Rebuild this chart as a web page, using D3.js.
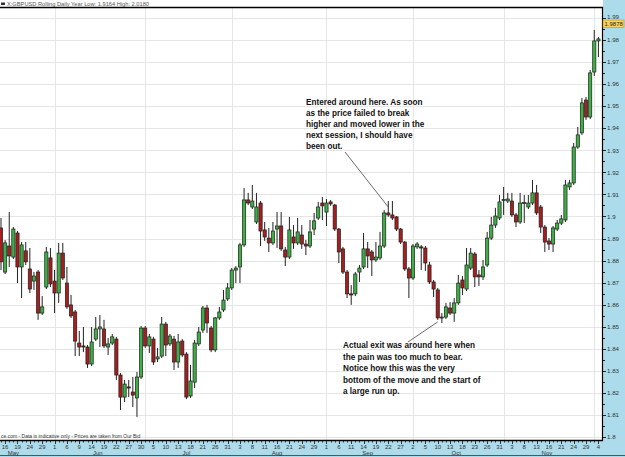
<!DOCTYPE html>
<html>
<head>
<meta charset="utf-8">
<script src="https://cdn.jsdelivr.net/npm/d3@7"></script>
<style>
  body { margin: 0; background: #fff; }
  svg { display: block; font-family: "Liberation Sans", Arial, sans-serif; }
</style>
</head>
<body>
<div id="chart"></div>
<script>
// GBP/USD daily candles, one per weekday from 15 May 2006
var startDate = "2006-05-15";

var opens = [1.8948,1.8748,1.8866,1.8816,1.8925,1.8771,1.8844,1.8762,1.8707,1.8748,
  1.8562,1.8680,1.8812,1.8707,1.8653,1.8834,1.8698,1.8599,1.8567,1.8426,
  1.8413,1.8408,1.8331,1.8444,1.8490,1.8490,1.8408,1.8426,1.8444,1.8281,
  1.8181,1.8227,1.8204,1.8177,1.8272,1.8494,1.8413,1.8444,1.8354,1.8367,
  1.8512,1.8422,1.8444,1.8340,1.8435,1.8376,1.8186,1.8249,1.8422,1.8485,
  1.8585,1.8494,1.8395,1.8540,1.8576,1.8626,1.8676,1.8757,1.8771,1.8871,
  1.9075,1.9043,1.8975,1.9061,1.8939,1.8902,1.8880,1.8943,1.8957,1.8848,
  1.8816,1.8907,1.8880,1.8916,1.8875,1.8866,1.8943,1.8993,1.9061,1.9020,
  1.9066,1.9052,1.8943,1.8853,1.8748,1.8649,1.8649,1.8748,1.8771,1.8853,
  1.8839,1.8803,1.8812,1.8866,1.9016,1.9007,1.8998,1.8943,1.8884,1.8762,
  1.8721,1.8862,1.8862,1.8857,1.8780,1.8703,1.8667,1.8540,1.8544,1.8585,
  1.8562,1.8608,1.8712,1.8671,1.8766,1.8830,1.8735,1.8726,1.8780,1.8902,
  1.8961,1.8993,1.9075,1.9070,1.9070,1.9007,1.8975,1.9061,1.9043,1.9061,
  1.9107,1.9043,1.8952,1.8889,1.8875,1.8943,1.8970,1.8984,1.9134,1.9152,
  1.9315,1.9379,1.9528,1.9451,1.9655,1.9796];

var highs = [1.8993,1.8893,1.9020,1.8952,1.8934,1.8884,1.8884,1.8857,1.8748,1.8757,
  1.8639,1.8862,1.8857,1.8757,1.8880,1.8880,1.8771,1.8644,1.8576,1.8481,
  1.8499,1.8417,1.8499,1.8544,1.8553,1.8531,1.8449,1.8467,1.8454,1.8290,
  1.8259,1.8259,1.8272,1.8295,1.8503,1.8503,1.8467,1.8454,1.8404,1.8544,
  1.8522,1.8467,1.8458,1.8467,1.8444,1.8385,1.8327,1.8440,1.8499,1.8594,
  1.8599,1.8503,1.8544,1.8590,1.8667,1.8698,1.8766,1.8775,1.8880,1.9129,
  1.9107,1.9143,1.9107,1.9070,1.8975,1.8948,1.8975,1.9020,1.9020,1.8862,
  1.8998,1.8961,1.8993,1.8961,1.8893,1.8984,1.9016,1.9066,1.9088,1.9079,
  1.9075,1.9057,1.8948,1.8862,1.8757,1.8689,1.8748,1.8780,1.8925,1.8884,
  1.8848,1.8884,1.8930,1.9029,1.9070,1.9070,1.9002,1.8948,1.8889,1.8771,
  1.8875,1.8884,1.8871,1.8866,1.8794,1.8712,1.8676,1.8562,1.8608,1.8612,
  1.8630,1.8735,1.8730,1.8857,1.8857,1.8839,1.8757,1.8803,1.8930,1.8998,
  1.9039,1.9097,1.9134,1.9107,1.9107,1.9016,1.9107,1.9097,1.9097,1.9166,
  1.9143,1.9052,1.8961,1.8902,1.8957,1.8984,1.9007,1.9166,1.9166,1.9333,
  1.9406,1.9537,1.9542,1.9664,1.9846,1.9814];

var lows = [1.8757,1.8739,1.8771,1.8807,1.8698,1.8630,1.8780,1.8653,1.8667,1.8531,
  1.8553,1.8671,1.8680,1.8562,1.8608,1.8712,1.8581,1.8540,1.8367,1.8367,
  1.8385,1.8313,1.8322,1.8435,1.8408,1.8404,1.8372,1.8417,1.8259,1.8122,
  1.8159,1.8181,1.8136,1.8091,1.8263,1.8404,1.8381,1.8327,1.8340,1.8358,
  1.8367,1.8413,1.8304,1.8313,1.8363,1.8172,1.8177,1.8222,1.8413,1.8472,
  1.8472,1.8385,1.8385,1.8531,1.8567,1.8617,1.8667,1.8698,1.8698,1.8862,
  1.9052,1.9034,1.8966,1.8866,1.8889,1.8839,1.8871,1.8857,1.8844,1.8775,
  1.8807,1.8853,1.8871,1.8853,1.8825,1.8857,1.8916,1.8984,1.8984,1.8957,
  1.9048,1.8934,1.8789,1.8739,1.8630,1.8599,1.8639,1.8703,1.8762,1.8766,
  1.8730,1.8794,1.8803,1.8857,1.8998,1.8984,1.8934,1.8875,1.8753,1.8630,
  1.8712,1.8853,1.8757,1.8753,1.8694,1.8635,1.8531,1.8517,1.8535,1.8553,
  1.8522,1.8599,1.8644,1.8662,1.8757,1.8680,1.8685,1.8712,1.8771,1.8893,
  1.8948,1.8984,1.9007,1.9061,1.8998,1.8952,1.8966,1.8971,1.9034,1.9052,
  1.9007,1.8925,1.8839,1.8848,1.8839,1.8934,1.8961,1.8975,1.9120,1.9143,
  1.9306,1.9370,1.9438,1.9442,1.9637,1.9723];

var closes = [1.8794,1.8880,1.8821,1.8943,1.8771,1.8871,1.8794,1.8671,1.8730,1.8562,
  1.8590,1.8839,1.8694,1.8653,1.8834,1.8721,1.8590,1.8549,1.8435,1.8408,
  1.8408,1.8331,1.8431,1.8490,1.8499,1.8413,1.8422,1.8454,1.8281,1.8181,
  1.8240,1.8222,1.8190,1.8272,1.8494,1.8413,1.8454,1.8340,1.8363,1.8512,
  1.8417,1.8458,1.8340,1.8431,1.8372,1.8181,1.8254,1.8426,1.8476,1.8585,
  1.8517,1.8395,1.8540,1.8567,1.8621,1.8676,1.8757,1.8766,1.8871,1.9075,
  1.9061,1.9070,1.9043,1.8934,1.8907,1.8880,1.8934,1.8957,1.8853,1.8816,
  1.8939,1.8880,1.8930,1.8875,1.8866,1.8930,1.8980,1.9043,1.9048,1.9061,
  1.9057,1.8943,1.8839,1.8748,1.8649,1.8644,1.8739,1.8766,1.8853,1.8821,
  1.8803,1.8816,1.8866,1.9016,1.9007,1.8993,1.8943,1.8884,1.8762,1.8721,
  1.8866,1.8875,1.8857,1.8789,1.8703,1.8671,1.8540,1.8544,1.8590,1.8562,
  1.8608,1.8698,1.8676,1.8780,1.8834,1.8726,1.8726,1.8771,1.8902,1.8961,
  1.9002,1.9066,1.9077,1.9079,1.9007,1.8975,1.9061,1.9063,1.9061,1.9107,
  1.9016,1.8952,1.8884,1.8875,1.8948,1.8970,1.8989,1.9143,1.9152,1.9315,
  1.9370,1.9515,1.9451,1.9651,1.9796,1.9805];

var priceTicks = [1.80,1.81,1.82,1.83,1.84,1.85,1.86,1.87,1.88,1.89,
  1.90,1.91,1.92,1.93,1.94,1.95,1.96,1.97,1.98,1.99];
var monthNames = ["Jan","Feb","Mar","Apr","May","Jun","Jul","Aug","Sep","Oct","Nov","Dec"];
var lastPrice = 1.9878;

var titleText = "X:GBPUSD Rolling Daily    Year Low: 1.9164 High: 2.0180";
var footerText = "ce.com - Data is indicative only - Prices are taken from Our Bid";
var entryNote = ["Entered around here. As soon", "as the price failed to break",
  "higher and moved lower in the", "next session, I should have", "been out."];
var exitNote = ["Actual exit was around here when", "the pain was too much to bear.",
  "Notice how this was the very", "bottom of the move and the start of", "a large run up."];

// ---- layout
var W = 625, H = 457;
var plot = {left: 0, right: 602, top: 8, bottom: 440};

// build the weekday list
var days = d3.utcDays(new Date(startDate + "T00:00:00Z"), new Date("2007-01-01T00:00:00Z"))
  .filter(function(d) { return d.getUTCDay() !== 0 && d.getUTCDay() !== 6; })
  .slice(0, opens.length);

var data = days.map(function(d, i) {
  return {i: i, date: d, o: opens[i], h: highs[i], l: lows[i], c: closes[i]};
});

var x = d3.scaleLinear().domain([0, data.length - 1]).range([1, 598.4]);
var y = d3.scaleLinear().domain([1.80, 1.99]).range([437, 18]);

var svg = d3.select("#chart").append("svg")
  .attr("width", W).attr("height", H);

svg.append("rect").attr("width", W).attr("height", H).attr("fill", "#fff");

// blue side/bottom panels
svg.append("rect").attr("x", 603).attr("y", 0).attr("width", W - 603).attr("height", H)
  .attr("fill", "#acdcec");
svg.append("rect").attr("x", 0).attr("y", 441).attr("width", W).attr("height", H - 441)
  .attr("fill", "#acdcec");

svg.append("defs").append("clipPath").attr("id", "clip")
  .append("rect").attr("x", plot.left).attr("y", plot.top)
  .attr("width", plot.right - plot.left).attr("height", plot.bottom - plot.top);

var g = svg.append("g").attr("clip-path", "url(#clip)");

// horizontal grid
g.selectAll(".hgrid").data(priceTicks).enter().append("line")
  .attr("x1", plot.left).attr("x2", plot.right)
  .attr("y1", function(d) { return Math.round(y(d)) + 0.5; })
  .attr("y2", function(d) { return Math.round(y(d)) + 0.5; })
  .attr("stroke", "#e6e6e6");

// month starts
var months = d3.groups(data, function(d) { return d.date.getUTCMonth(); });
var monthInfo = months.map(function(m) {
  var idx = m[1].map(function(d) { return d.i; });
  return {month: m[0], first: d3.min(idx), last: d3.max(idx)};
});

g.selectAll(".vgrid").data(monthInfo.filter(function(m) { return m.first > 0; })).enter()
  .append("line")
  .attr("x1", function(m) { return Math.round(x(m.first)) + 0.5; })
  .attr("x2", function(m) { return Math.round(x(m.first)) + 0.5; })
  .attr("y1", plot.top).attr("y2", plot.bottom)
  .attr("stroke", "#e6e6e6");

// candles
var bw = 3.2;
var candle = g.selectAll(".candle").data(data).enter().append("g");

candle.append("line")
  .attr("x1", function(d) { return x(d.i); })
  .attr("x2", function(d) { return x(d.i); })
  .attr("y1", function(d) { return y(d.h); })
  .attr("y2", function(d) { return y(d.l); })
  .attr("stroke", "#222").attr("stroke-width", 1);

candle.append("rect")
  .attr("x", function(d) { return x(d.i) - bw / 2; })
  .attr("y", function(d) { return y(Math.max(d.o, d.c)); })
  .attr("width", bw)
  .attr("height", function(d) { return Math.max(1, Math.abs(y(d.o) - y(d.c))); })
  .attr("fill", function(d) { return d.c >= d.o ? "#3cb043" : "#a61e1e"; })
  .attr("stroke", "#1e1e1e").attr("stroke-width", 0.7);

// footer note inside plot
svg.append("text").attr("x", 1).attr("y", 438)
  .attr("font-size", 5).attr("fill", "#333").text(footerText);

// frame
svg.append("line").attr("x1", 0).attr("x2", 603).attr("y1", 7.5).attr("y2", 7.5)
  .attr("stroke", "#000").attr("stroke-width", 1.5);
svg.append("line").attr("x1", 602.5).attr("x2", 602.5).attr("y1", 7).attr("y2", 441)
  .attr("stroke", "#000").attr("stroke-width", 1.2);
svg.append("line").attr("x1", 0).attr("x2", 603).attr("y1", 440.5).attr("y2", 440.5)
  .attr("stroke", "#000").attr("stroke-width", 1.5);
svg.append("line").attr("x1", 0).attr("x2", W).attr("y1", 455.5).attr("y2", 455.5)
  .attr("stroke", "#555").attr("stroke-width", 1);

// right price axis
var minor = d3.range(0, 39).map(function(k) { return 1.80 + k * 0.005; });
svg.selectAll(".ytick").data(minor).enter().append("line")
  .attr("x1", 603).attr("x2", function(d, k) { return k % 2 === 0 ? 606 : 605; })
  .attr("y1", function(d) { return Math.round(y(d)) + 0.5; })
  .attr("y2", function(d) { return Math.round(y(d)) + 0.5; })
  .attr("stroke", "#222");

svg.selectAll(".ylab").data(priceTicks).enter().append("text")
  .attr("x", 607).attr("y", function(d) { return y(d) + (d > 1.985 ? 1.2 : 2.2); })
  .attr("font-size", 6.2).attr("fill", "#333")
  .text(function(d) { return String(+d.toFixed(2)); });

// last price tag
svg.append("rect").attr("x", 603).attr("y", y(lastPrice) - 2.8).attr("width", 21).attr("height", 7.4)
  .attr("fill", "#f6d465").attr("stroke", "#b8941e").attr("stroke-width", 0.6);
svg.append("text").attr("x", 604.5).attr("y", y(lastPrice) + 3)
  .attr("font-size", 6).attr("fill", "#222").text(lastPrice.toFixed(4));

// bottom date axis
svg.selectAll(".xtick").data(data).enter().append("line")
  .attr("x1", function(d) { return Math.round(x(d.i)) + 0.5; })
  .attr("x2", function(d) { return Math.round(x(d.i)) + 0.5; })
  .attr("y1", 441).attr("y2", function(d) { return d.i % 3 === 1 ? 444 : 442.5; })
  .attr("stroke", "#333");

svg.selectAll(".xlab").data(data.filter(function(d) { return d.i % 3 === 1; })).enter()
  .append("text")
  .attr("x", function(d) { return x(d.i); }).attr("y", 449)
  .attr("text-anchor", "middle").attr("font-size", 6).attr("fill", "#333")
  .text(function(d) { return d.date.getUTCDate(); });

// month names only where the month has room
svg.selectAll(".mlab").data(monthInfo.filter(function(m) { return m.last - m.first > 3; })).enter()
  .append("text")
  .attr("x", function(m) { return x(m.first === 0 ? m.last / 4 : (m.first + m.last) / 2); })
  .attr("y", 455)
  .attr("text-anchor", "middle").attr("font-size", 6).attr("fill", "#333")
  .text(function(m) { return monthNames[m.month]; });

// title
svg.append("rect").attr("x", 1).attr("y", 2.5).attr("width", 4).attr("height", 2.5).attr("fill", "#333");
svg.append("text").attr("x", 7).attr("y", 6).attr("font-size", 5.7).attr("fill", "#555").text(titleText);

// annotations
function note(lines, x0, y0, lh) {
  svg.append("g").selectAll("text").data(lines).enter().append("text")
    .attr("x", x0).attr("y", function(d, k) { return y0 + k * lh; })
    .attr("font-size", 8.2).attr("font-weight", "bold").attr("fill", "#111")
    .text(function(d) { return d; });
}
note(entryNote, 306, 104.5, 11);
note(exitNote, 343, 348, 11.5);

svg.append("line").attr("x1", 345).attr("y1", 152)
  .attr("x2", x(94)).attr("y2", y(highs[94]) + 6)
  .attr("stroke", "#444").attr("stroke-width", 0.8);
svg.append("line").attr("x1", 408).attr("y1", 342)
  .attr("x2", x(106)).attr("y2", y(lows[106]) + 2)
  .attr("stroke", "#444").attr("stroke-width", 0.8);
</script>
</body>
</html>
